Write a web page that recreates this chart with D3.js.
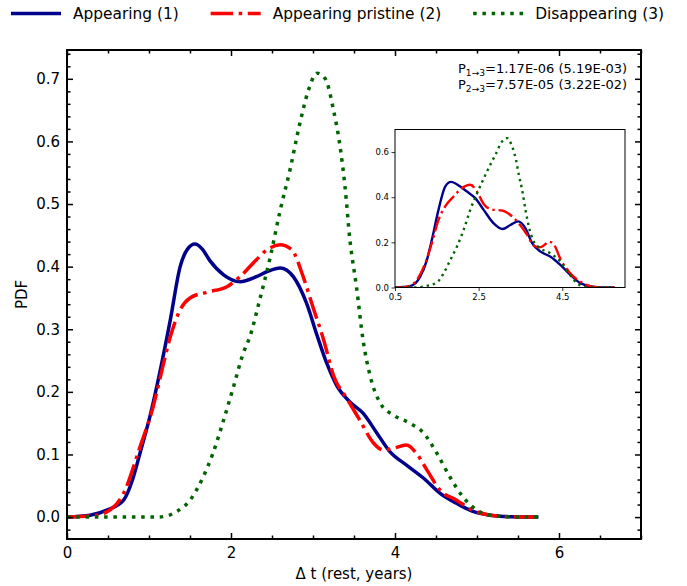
<!DOCTYPE html>
<html><head><meta charset="utf-8">
<script src="https://cdn.jsdelivr.net/npm/d3@7"></script>
<style>
body{margin:0;background:#fff}
svg{display:block}
text{font-family:"DejaVu Sans",sans-serif;fill:#000}
</style>
</head><body>
<svg id="c" width="687" height="586"></svg>
<script>
// ---------- data ----------
const seriesNames = ["Appearing (1)", "Appearing pristine (2)", "Disappearing (3)"];

const blueX = [0,0.28,0.5,0.69,0.8,0.89,1.01,1.13,1.26,1.38,1.47,1.56,1.65,1.74,1.91,2.11,2.31,2.44,2.6,2.76,2.92,3.05,3.17,3.29,3.45,3.61,3.78,3.94,4.14,4.35,4.55,4.75,4.95,5.16,5.4,5.75];
const blueY = [0,0.003,0.012,0.027,0.06,0.102,0.16,0.23,0.315,0.40,0.428,0.436,0.428,0.41,0.387,0.376,0.384,0.392,0.398,0.384,0.342,0.29,0.245,0.21,0.184,0.166,0.134,0.104,0.083,0.062,0.038,0.022,0.009,0.003,0.0005,0];

const redX = [0,0.3,0.48,0.69,0.89,1.05,1.13,1.26,1.38,1.5,1.7,1.95,2.11,2.31,2.44,2.6,2.74,2.88,3.0,3.13,3.25,3.41,3.57,3.74,3.86,3.98,4.14,4.26,4.39,4.55,4.75,4.95,5.16,5.4,5.75];
const redY = [0,0.002,0.008,0.038,0.112,0.176,0.219,0.288,0.331,0.35,0.359,0.368,0.384,0.411,0.427,0.435,0.427,0.384,0.335,0.283,0.226,0.19,0.155,0.118,0.107,0.11,0.115,0.102,0.075,0.043,0.027,0.011,0.003,0.0005,0];

const greenX = [0,1.1,1.22,1.34,1.5,1.66,1.78,1.91,2.03,2.15,2.23,2.35,2.48,2.6,2.72,2.84,2.94,3.05,3.15,3.25,3.33,3.39,3.45,3.53,3.61,3.7,3.82,3.98,4.18,4.35,4.51,4.67,4.83,5.0,5.16,5.4,5.75];
const greenY = [0,0,0.002,0.009,0.027,0.064,0.102,0.155,0.208,0.262,0.288,0.347,0.416,0.49,0.555,0.629,0.68,0.709,0.70,0.65,0.592,0.528,0.443,0.368,0.283,0.224,0.182,0.163,0.15,0.134,0.102,0.064,0.032,0.011,0.003,0.0005,0];

// inset
const insetBlueX = [0.5,0.86,1.1,1.26,1.38,1.54,1.7,1.84,2.06,2.22,2.42,2.62,2.86,3.07,3.26,3.45,3.62,3.78,3.98,4.22,4.46,4.7,4.94,5.26,5.75];
const insetBlueY = [0,0.006,0.047,0.12,0.21,0.344,0.447,0.468,0.447,0.425,0.396,0.344,0.284,0.259,0.277,0.293,0.262,0.196,0.159,0.136,0.099,0.055,0.018,0.003,0];

const insetRedX = [0.5,0.78,1.02,1.22,1.38,1.54,1.7,1.9,2.1,2.3,2.46,2.62,2.82,3.06,3.26,3.46,3.66,3.82,3.95,4.05,4.18,4.3,4.46,4.66,4.94,5.26,5.75];
const insetRedY = [0,0.003,0.033,0.107,0.196,0.3,0.359,0.403,0.44,0.455,0.425,0.37,0.345,0.341,0.321,0.284,0.233,0.185,0.178,0.185,0.203,0.19,0.125,0.07,0.025,0.003,0];

const insetGreenX = [0.5,1.0,1.2,1.5,1.66,1.82,1.98,2.14,2.3,2.5,2.7,2.9,3.06,3.18,3.3,3.4,3.46,3.54,3.62,3.7,3.82,3.98,4.22,4.46,4.66,4.86,5.02,5.3,5.75];
const insetGreenY = [0,0,0.005,0.022,0.062,0.121,0.181,0.255,0.344,0.433,0.514,0.588,0.647,0.662,0.625,0.56,0.5,0.433,0.344,0.27,0.203,0.173,0.151,0.114,0.062,0.018,0.003,0,0];

const xMajor = [0,2,4,6];
const yMajor = [0,0.1,0.2,0.3,0.4,0.5,0.6,0.7];
const insetXTicks = [0.5,2.5,4.5];
const insetYTicks = [0,0.2,0.4,0.6];
const annotLines = [["P","1→3","=1.17E-06 (5.19E-03)"],["P","2→3","=7.57E-05 (3.22E-02)"]];

// ---------- styles ----------
const colors = ["#00008b","#ff0000","#006400"];
const lw = 3.5;
const dashes = [null, `${6.4*lw},${1.6*lw},${1*lw},${1.6*lw}`, `${1*lw},${1.65*lw}`];

const svg = d3.select("#c");
const m = {l:67,r:641,t:50,b:539};

const x = d3.scaleLinear().domain([0,7]).range([m.l,m.r]);
const y = d3.scaleLinear().domain([-0.035,0.746]).range([m.b,m.t]);

svg.append("defs").append("clipPath").attr("id","mainclip")
  .append("rect").attr("x",m.l).attr("y",m.t).attr("width",m.r-m.l).attr("height",m.b-m.t);

const line = (xs,ys,sx,sy)=> d3.line().x(d=>sx(d[0])).y(d=>sy(d[1])).curve(d3.curveMonotoneX)(xs.map((v,i)=>[v,ys[i]]));

const mainSeries = [[blueX,blueY],[redX,redY],[greenX,greenY]];
const gl = svg.append("g").attr("clip-path","url(#mainclip)");
mainSeries.forEach((s,i)=>{
  gl.append("path").attr("d",line(s[0],s[1],x,y)).attr("fill","none")
    .attr("stroke",colors[i]).attr("stroke-width",lw)
    .attr("stroke-dasharray",dashes[i]).attr("stroke-linecap","butt").attr("stroke-linejoin","round");
});

// ticks (inward) on all sides
const xMinor = d3.range(0,7.0001,0.5).filter(v=>!xMajor.some(t=>Math.abs(t-v)<1e-6));
const yMinor = d3.range(-0.02,0.7401,0.02).filter(v=>!yMajor.some(t=>Math.abs(t-v)<1e-6));
function axisG(axis, tx, ty){ return svg.append("g").attr("transform",`translate(${tx},${ty})`).call(axis); }
const tickFont = 15;
const bx = axisG(d3.axisBottom(x).tickValues(xMajor).tickSize(-6).tickPadding(8).tickFormat(d3.format("d")),0,m.b);
const bxm = axisG(d3.axisBottom(x).tickValues(xMinor).tickSize(-3.5).tickFormat(""),0,m.b);
const tx = axisG(d3.axisTop(x).tickValues(xMajor).tickSize(-6).tickFormat(""),0,m.t);
const txm = axisG(d3.axisTop(x).tickValues(xMinor).tickSize(-3.5).tickFormat(""),0,m.t);
const ly = axisG(d3.axisLeft(y).tickValues(yMajor).tickSize(-6).tickPadding(7).tickFormat(d3.format(".1f")),m.l,0);
const lym = axisG(d3.axisLeft(y).tickValues(yMinor).tickSize(-3.5).tickFormat(""),m.l,0);
const ry = axisG(d3.axisRight(y).tickValues(yMajor).tickSize(-6).tickFormat(""),m.r,0);
const rym = axisG(d3.axisRight(y).tickValues(yMinor).tickSize(-3.5).tickFormat(""),m.r,0);
[bx,bxm,tx,txm,ly,lym,ry,rym].forEach(g=>{
  g.select(".domain").remove();
  g.selectAll(".tick line").attr("stroke","#000").attr("stroke-width",1.5);
  g.selectAll(".tick text").attr("font-size",tickFont).attr("font-family","DejaVu Sans").attr("fill","#000");
});
// frame
svg.append("rect").attr("x",m.l).attr("y",m.t).attr("width",m.r-m.l).attr("height",m.b-m.t)
  .attr("fill","none").attr("stroke","#000").attr("stroke-width",2);

// axis labels
svg.append("text").attr("x",(m.l+m.r)/2).attr("y",579).attr("text-anchor","middle").attr("font-size",15).text("Δ t (rest, years)");
svg.append("text").attr("transform",`translate(27,${(m.t+m.b)/2}) rotate(-90)`).attr("text-anchor","middle").attr("font-size",15).text("PDF");

// annotation
annotLines.forEach((a,i)=>{
  const t = svg.append("text").attr("x",627).attr("y",73+i*15.5).attr("text-anchor","end").attr("font-size",13);
  t.append("tspan").text(a[0]);
  t.append("tspan").attr("dy",3).attr("font-size",9.1).text(a[1]);
  t.append("tspan").attr("dy",-3).text(a[2]);
});

// ---------- inset ----------
const im = {l:395,r:625,t:129.5,b:287.5};
const ix = d3.scaleLinear().domain([0.5,6]).range([im.l,im.r]);
const iy = d3.scaleLinear().domain([0,0.7]).range([im.b,im.t]);
svg.append("rect").attr("x",im.l).attr("y",im.t).attr("width",im.r-im.l).attr("height",im.b-im.t).attr("fill","#fff");
svg.select("defs").append("clipPath").attr("id","insetclip")
  .append("rect").attr("x",im.l).attr("y",im.t).attr("width",im.r-im.l).attr("height",im.b-im.t);
const ilw = 2.4;
const idashes = [null, `${6.4*ilw},${1.6*ilw},${1*ilw},${1.6*ilw}`, `${1*ilw},${1.65*ilw}`];
const insetSeries = [[insetBlueX,insetBlueY],[insetRedX,insetRedY],[insetGreenX,insetGreenY]];
const gi = svg.append("g").attr("clip-path","url(#insetclip)");
insetSeries.forEach((s,i)=>{
  gi.append("path").attr("d",line(s[0],s[1],ix,iy)).attr("fill","none")
    .attr("stroke",colors[i]).attr("stroke-width",ilw)
    .attr("stroke-dasharray",idashes[i]).attr("stroke-linecap","butt").attr("stroke-linejoin","round");
});
const ibx = axisG(d3.axisBottom(ix).tickValues(insetXTicks).tickSize(3.5).tickPadding(2.5).tickFormat(d3.format(".1f")),0,im.b);
const ily = axisG(d3.axisLeft(iy).tickValues(insetYTicks).tickSize(3.5).tickPadding(2.5).tickFormat(d3.format(".1f")),im.l,0);
[ibx,ily].forEach(g=>{
  g.select(".domain").remove();
  g.selectAll(".tick line").attr("stroke","#000").attr("stroke-width",0.8);
  g.selectAll(".tick text").attr("font-size",8.5).attr("font-family","DejaVu Sans").attr("fill","#222");
});
svg.append("rect").attr("x",im.l).attr("y",im.t).attr("width",im.r-im.l).attr("height",im.b-im.t)
  .attr("fill","none").attr("stroke","#000").attr("stroke-width",1);

// ---------- legend ----------
const legFont = 15.4, handleLen = 50, pad = 12, legLeft = 11, legRight = 664;
const lg = svg.append("g");
const widths = seriesNames.map(n=>{
  const t = lg.append("text").attr("font-size",legFont).text(n);
  const w = t.node().getComputedTextLength(); t.remove(); return w;
});
const colGap = ((legRight-legLeft) - d3.sum(widths) - seriesNames.length*(handleLen+pad))/(seriesNames.length-1);
let cx = legLeft;
const ly0 = 13.5;
seriesNames.forEach((n,i)=>{
  lg.append("line").attr("x1",cx).attr("x2",cx+handleLen).attr("y1",ly0).attr("y2",ly0)
    .attr("stroke",colors[i]).attr("stroke-width",lw).attr("stroke-dasharray",dashes[i]);
  lg.append("text").attr("x",cx+handleLen+pad).attr("y",ly0+5.5).attr("font-size",legFont).text(n);
  cx += handleLen+pad+widths[i]+colGap;
});
</script>
</body></html>
